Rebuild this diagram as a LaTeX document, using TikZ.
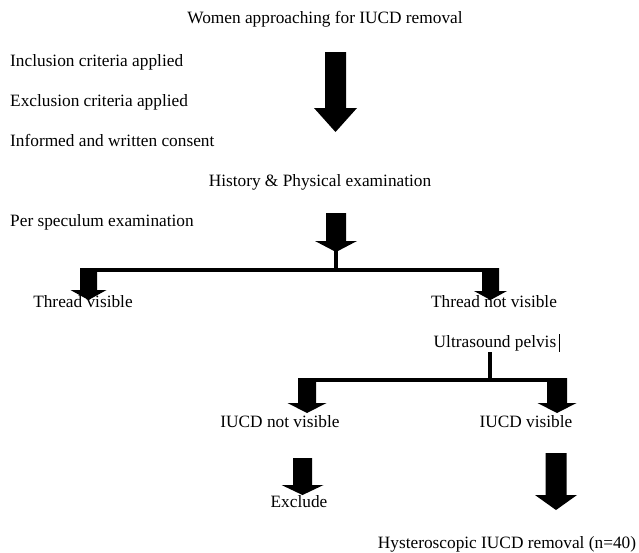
\documentclass[tikz,border=0pt]{standalone}
\usepackage{fontspec}
\setmainfont{Liberation Serif}
\newcommand{\myblockarrow}[6]{% cx, top, headstart, tip, half shaft, half head
  \fill[black] (#1-#5,#2) -- (#1+#5,#2) -- (#1+#5,#3) -- (#1+#6,#3) -- (#1,#4) -- (#1-#6,#3) -- (#1-#5,#3) -- cycle;}
\begin{document}
\begin{tikzpicture}[x=1pt,y=-1pt,
  lbl/.style={inner sep=0pt,font=\fontsize{17.3}{20}\selectfont,anchor=mid},
  lblw/.style={lbl,anchor=mid west},
  barline/.style={line width=4.5pt,line cap=butt},
  stemline/.style={line width=4pt,line cap=butt}]
\useasboundingbox (0,0) rectangle (639,552);
% texts
\node[lbl] (title) at (325,21) {Women approaching for IUCD removal};
\node[lblw] (incl) at (10,64) {Inclusion criteria applied};
\node[lblw] (excl) at (10,104) {Exclusion criteria applied};
\node[lblw] (cons) at (10,144) {Informed and written consent};
\node[lbl] (hist) at (320,184) {History \& Physical examination};
\node[lblw] (spec) at (10,224) {Per speculum examination};
\node[lbl] (tv) at (83,305) {Thread visible};
\node[lbl] (tnv) at (494,305) {Thread not visible};
\node[lbl] (us) at (495,345) {Ultrasound pelvis};
\node[lbl] (inv) at (280,425) {IUCD not visible};
\node[lbl] (iv) at (526,425) {IUCD visible};
\node[lbl] (exc) at (299,505) {Exclude};
\node[lbl] (hys) at (507,546) {Hysteroscopic IUCD removal (n=40)};
\draw[line width=0.6pt] (559,334) -- (559,352);
% arrows
\myblockarrow{335.5}{52}{108}{132}{10.5}{21.5}
\myblockarrow{336}{213}{241}{252}{10}{21}
\coordinate (s1a) at (336,251);
\coordinate (s1b) at (336,270);
\draw[stemline] (s1a) -- (s1b);
\coordinate (b1l) at (80,270);
\coordinate (b1r) at (499,270);
\draw[barline] (b1l) -- (b1r);
\myblockarrow{88.5}{268}{290}{300}{8.5}{18}
\myblockarrow{490.5}{268}{291}{300}{8.5}{16.5}
\coordinate (s2a) at (490,352);
\coordinate (s2b) at (490,380);
\draw[stemline] (s2a) -- (s2b);
\coordinate (b2l) at (298,380);
\coordinate (b2r) at (567,380);
\draw[barline] (b2l) -- (b2r);
\myblockarrow{307}{378}{403}{413}{9}{19.5}
\myblockarrow{557}{378}{403}{413}{10}{19.5}
\myblockarrow{302.5}{458}{485}{495}{9.5}{21}
\myblockarrow{556}{453}{495}{510}{10.5}{21}
\end{tikzpicture}
\end{document}
